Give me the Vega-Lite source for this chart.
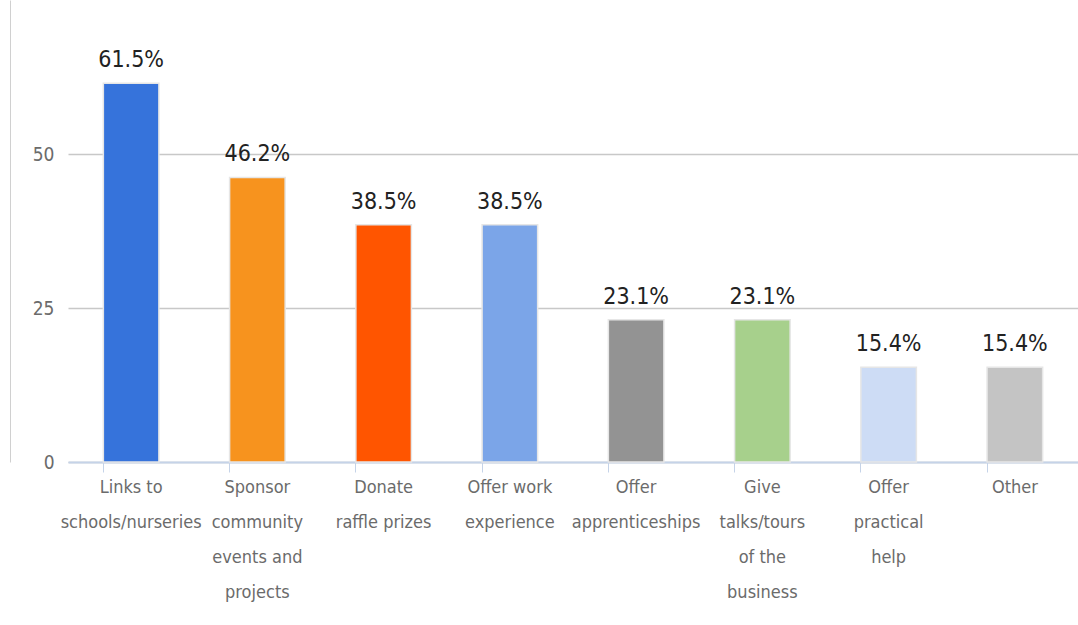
{
  "$schema": "https://vega.github.io/schema/vega-lite/v6.json",
  "width": 1010,
  "height": 462,
  "autosize": {"type": "none"},
  "padding": {"left": 68, "top": 0, "right": 0, "bottom": 163},
  "background": "white",
  "config": {"view": {"stroke": null}, "font": "DejaVu Sans Condensed"},
  "data": {
    "values": [
      {"category": "Links to|schools/nurseries", "value": 61.5, "label": "61.5%", "color": "#3673db"},
      {"category": "Sponsor|community|events and|projects", "value": 46.2, "label": "46.2%", "color": "#f7931e"},
      {"category": "Donate|raffle prizes", "value": 38.5, "label": "38.5%", "color": "#ff5500"},
      {"category": "Offer work|experience", "value": 38.5, "label": "38.5%", "color": "#7ba5e8"},
      {"category": "Offer|apprenticeships", "value": 23.1, "label": "23.1%", "color": "#939393"},
      {"category": "Give|talks/tours|of the|business", "value": 23.1, "label": "23.1%", "color": "#a7d08c"},
      {"category": "Offer|practical|help", "value": 15.4, "label": "15.4%", "color": "#cddcf5"},
      {"category": "Other", "value": 15.4, "label": "15.4%", "color": "#c4c4c4"}
    ]
  },
  "encoding": {
    "x": {
      "field": "category",
      "type": "nominal",
      "sort": null,
      "scale": {"paddingInner": 0.56, "paddingOuter": 0.28},
      "axis": {
        "title": null,
        "labelAngle": 0,
        "labelExpr": "split(datum.label, '|')",
        "labelFont": "DejaVu Sans Condensed",
        "labelFontSize": 18,
        "labelColor": "#6b6b6b",
        "labelLineHeight": 35,
        "labelBaseline": "top",
        "labelPadding": 6,
        "labelLimit": 200,
        "bandPosition": 0,
        "tickColor": "#c5d3e8",
        "tickSize": 10,
        "domainColor": "#c5d3e8",
        "domainWidth": 2,
        "grid": false
      }
    },
    "y": {
      "field": "value",
      "type": "quantitative",
      "scale": {"domain": [0, 75], "nice": false},
      "axis": {
        "title": null,
        "values": [0, 25, 50],
        "offset": 58,
        "domain": true,
        "domainColor": "#d0d0d0",
        "ticks": false,
        "labelPadding": -44,
        "labelFont": "DejaVu Sans Condensed",
        "labelFontSize": 19,
        "labelColor": "#6b6b6b",
        "grid": true,
        "gridColor": "#c8c8c8",
        "gridWidth": 1.5
      }
    }
  },
  "layer": [
    {
      "mark": {"type": "bar", "stroke": "#e6e6e6", "strokeWidth": 1.5},
      "encoding": {"color": {"field": "color", "type": "nominal", "scale": null}}
    },
    {
      "mark": {"type": "text", "baseline": "bottom", "dy": -11, "fontSize": 23, "font": "DejaVu Sans Condensed", "color": "#222222"},
      "encoding": {"text": {"field": "label"}}
    }
  ]
}
